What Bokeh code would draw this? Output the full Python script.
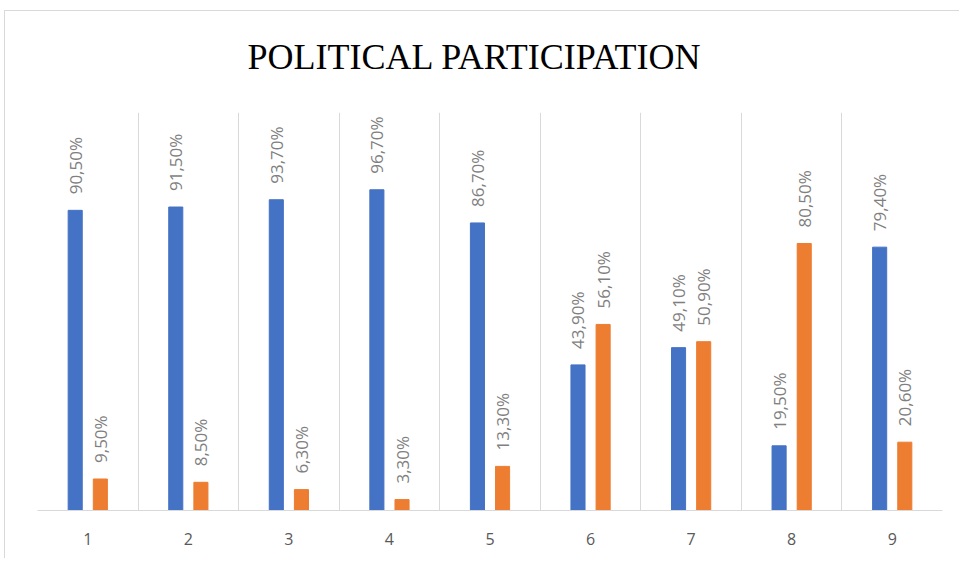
import math
from bokeh.plotting import figure
from bokeh.models import ColumnDataSource, FixedTicker, Title
from bokeh.core.properties import value
from bokeh.embed import file_html
from bokeh.resources import INLINE

categories = [1, 2, 3, 4, 5, 6, 7, 8, 9]
series_a = [90.5, 91.5, 93.7, 96.7, 86.7, 43.9, 49.1, 19.5, 79.4]
series_b = [9.5, 8.5, 6.3, 3.3, 13.3, 56.1, 50.9, 80.5, 20.6]
title_text = "POLITICAL PARTICIPATION"

BLUE = "#4472C4"
ORANGE = "#ED7D31"
GRID = "#D9D9D9"


def fmt(v):
    return ("%.2f%%" % v).replace(".", ",")


src_a = ColumnDataSource(dict(x=[c - 0.125 for c in categories], y=series_a,
                              lab=[fmt(v) for v in series_a]))
src_b = ColumnDataSource(dict(x=[c + 0.125 for c in categories], y=series_b,
                              lab=[fmt(v) for v in series_b]))

p = figure(width=955, height=548, x_range=(0.5, 9.5), y_range=(0, 120),
           output_backend="svg", toolbar_location=None,
           min_border_left=32, min_border_right=18, min_border_top=101,
           min_border_bottom=49)
p.styles = {"margin-left": "4px", "margin-top": "10px",
            "border-left": "1px solid #D9D9D9", "border-top": "1px solid #D9D9D9"}
p.outline_line_color = None
p.background_fill_color = "white"
p.border_fill_color = "white"

p.vbar(x="x", top="y", width=0.14, bottom=0, source=src_a, color=BLUE)
p.vbar(x="x", top="y", width=0.14, bottom=0, source=src_b, color=ORANGE)

for s in (src_a, src_b):
    p.text(x="x", y="y", text="lab", source=s, angle=math.pi / 2,
           text_align="left", text_baseline="middle", y_offset=-16,
           text_font=value("Open Sans"), text_font_size="17px",
           text_color="#7F7F7F")

p.yaxis.visible = False
p.ygrid.visible = False

p.xaxis.ticker = FixedTicker(ticks=categories)
p.xaxis.major_tick_line_color = None
p.xaxis.minor_tick_line_color = None
p.xaxis.axis_line_color = GRID
p.xaxis.axis_line_width = 1
p.xaxis.major_label_text_font = "Open Sans"
p.xaxis.major_label_text_font_size = "16px"
p.xaxis.major_label_text_color = "#595959"
p.xaxis.major_label_standoff = 16

p.xgrid.ticker = FixedTicker(ticks=[c + 0.5 for c in [0] + categories])
p.xgrid.grid_line_color = GRID
p.xgrid.grid_line_width = 1

p.title.text = ""
# empty spacer between the frame and the title
p.add_layout(Title(text=" ", text_font_size="1px", standoff=28,
                   text_color="white"), "above")
p.add_layout(Title(text=title_text, align="left", offset=210, standoff=10,
                   text_font="Liberation Serif", text_font_size="36px",
                   text_font_style="normal", text_color="#000000"), "above")

open("out.html", "w").write(file_html(p, INLINE))
